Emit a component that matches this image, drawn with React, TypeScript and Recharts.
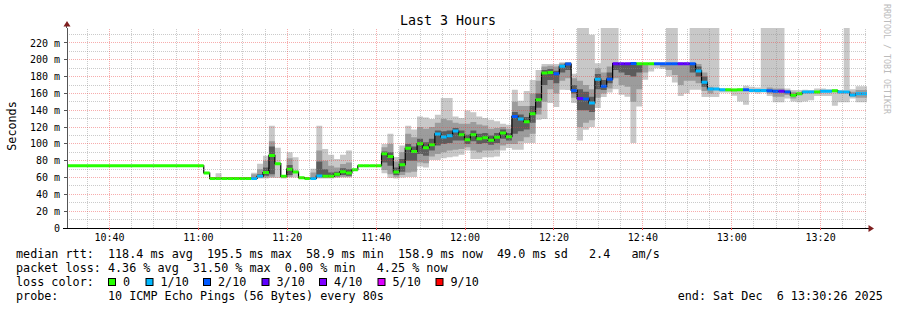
import React from 'react';
import { ComposedChart, Area, Line, XAxis, YAxis, ReferenceLine } from 'recharts';

// time axis (minutes since midnight)
const T_START = 630 + 26 / 60; // 10:30:26
const T_END = T_START + 180; // 13:30:26
const FIRST_SAMPLE = 661.2; // 11:01:12
const STEP = 80 / 60; // 80 s
const LEAD_MEDIAN = 74;

const median = [
  65.4, 59.0, 59.0, 59.0, 58.9, 58.9, 58.9, 58.9, 59.0, 61.4,
  66.0, 86.3, 76.5, 61.4, 70.0, 66.6, 59.8, 59.0, 59.0, 61.8,
  61.4, 61.4, 63.8, 67.0, 65.4, 69.3, 74.0, 74.0, 74.0, 74.0,
  88.3, 85.0, 66.6, 75.3, 94.7, 91.0, 100.2, 95.5, 99.0, 111.8,
  108.2, 109.7, 115.3, 111.0, 105.0, 111.0, 106.2, 107.4, 104.2, 107.8,
  113.0, 108.6, 132.7, 129.6, 126.4, 135.9, 152.6, 184.3, 185.0, 183.5,
  192.2, 195.0, 163.6, 154.0, 153.3, 148.6, 177.0, 168.4, 177.0, 195.4,
  195.4, 195.4, 195.5, 195.4, 195.4, 195.4, 195.4, 195.4, 195.4, 195.4,
  195.4, 195.4, 195.4, 186.8, 173.2, 165.3, 165.3, 164.4, 164.4, 164.0,
  164.4, 164.4, 163.6, 163.6, 163.6, 163.3, 162.5, 162.5, 161.7, 157.7,
  159.7, 161.7, 161.7, 161.7, 162.5, 162.5, 163.3, 161.7, 161.7, 158.1,
  159.7, 159.7,
];

const loss = [
  0, 0, 0, 0, 0, 0, 0, 0, 1, 1,
  0, 0, 0, 0, 0, 0, 0, 0, 1, 1,
  0, 0, 0, 0, 0, 0, 0, 0, 0, 0,
  0, 0, 0, 0, 0, 0, 0, 0, 0, 1,
  1, 1, 1, 0, 0, 0, 0, 0, 0, 0,
  0, 0, 2, 1, 0, 0, 0, 0, 0, 2,
  1, 2, 2, 3, 2, 1, 1, 2, 2, 3,
  3, 3, 2, 0, 0, 0, 2, 2, 2, 2,
  3, 3, 2, 1, 1, 1, 1, 1, 0, 0,
  0, 2, 1, 1, 1, 2, 2, 3, 2, 0,
  0, 1, 1, 0, 1, 1, 0, 1, 1, 1,
  1, 1,
];

const outerLo = [
  null, null, 58.5, 58.5, null, null, null, null, 58.5, 59,
  59, 59.5, 59.5, 59, 60, 60, 59, null, 58.5, 59,
  59, 59, 59.5, 60, 60, 62, null, null, null, null,
  65, 59.5, 59, 60, 60.6, 60.6, 73, 72, 81, 81,
  83, 84, 85, 87, 92, 82, 82, 84, 84, 85,
  92, 95, 93, 93, 101, 101, 128.8, 129.6, 148.6, 143.9,
  164.4, 164, 148.6, 104, 116.9, 120, 142.7, 155.7, 161, 165,
  158.5, 156, 101, 144.6, 176.3, 186, 190, 189, 180, 173,
  157, 160, 164.4, 164.4, 155.8, 155.8, 155.8, 161, 161, 157.3,
  150.5, 146.6, 161, 160, 161, 157, 149.4, 149.4, 154, 150.5,
  149.4, 150.5, 152, 157, 157, 157, 145.4, 149.4, 149.4, 154,
  149.4, 149.4,
];

const outerHi = [
  null, null, 65, 63, null, null, null, null, 65.7, 76.5,
  86, 121.6, 95.5, 63, 90, 84, 62, null, 70.5, 121.6,
  94, 87, 82, 87, 92, 79, null, null, null, null,
  100, 112, 84.4, 98, 121.6, 117, 132.7, 131.5, 129.6, 134.7,
  154.6, 154.6, 132.7, 130.8, 139.8, 137.5, 132.7, 130.8, 128.8, 126.8,
  124, 122.8, 164.4, 151.4, 163, 176, 188, 195, 195, 195,
  197, 197, 183.5, 238, 238, 229.8, 196, 238, 238, 238,
  196.5, 196.5, 197, 196.5, 196.5, 196.5, 196.5, 196.5, 238, 238,
  197, 197, 238, 238, 238, 238, 238, 166, 166, 166,
  166, 169, 168, 167, 238, 238, 238, 238, 166, 164,
  164, 164.5, 164, 166, 166, 165, 165, 164, 238, 165,
  168.4, 168.4,
];

const midLo = [
  null, null, null, null, null, null, null, null, 59, 60,
  60, 61, 61, null, 61, 61, null, null, 59, 60,
  60, 60, 60.5, 61, 61, 64, null, null, null, null,
  69, 64, 61, 63, 66, 67, 78, 77, 85, 88,
  90, 92, 93, 94, 96, 92, 90, 92, 92, 93,
  98, 100, 100, 103, 108, 112, 135, 150, 165, 160,
  175, 178, 155, 120, 125, 128, 155, 160, 166, 178,
  170, 168, 150, 165, 185, 190, null, 191, 188, 182,
  170, 175, 175, 172, 163, 160, 160, null, null, null,
  null, 158, null, null, null, 160, 156, 156, 158, 154,
  155, null, null, null, null, null, null, null, null, 156,
  155, 155,
];

const midHi = [
  null, null, null, null, null, null, null, null, 64, 70,
  80, 103, 88, null, 83, 78, null, null, 66, 92,
  80, 74, 72, 76, 78, 75, null, null, null, null,
  96, 100, 79, 90, 112, 108, 120, 118, 120, 125,
  130, 128, 125, 124, 124, 126, 123, 122, 118, 119,
  120, 118, 150, 145, 145, 160, 175, 192, 193, 192,
  196, 197, 178, 175, 170, 165, 190, 185, 192, 197,
  196, 196, 197, 196, 196, 196, null, 196, 196, 196,
  196, 196, 196, 195, 185, 168, 168, null, null, null,
  null, 167, null, null, null, 167, 166, 166, 164, 162,
  163, null, null, null, null, null, null, null, null, 162,
  164, 164,
];

const innerLo = [
  null, null, null, null, null, null, null, null, null, 60.5,
  62, 64, 64, null, 63, 62, null, null, null, 61,
  60.5, 60.5, 61.5, 63, 62, 66, null, null, null, null,
  78, 74, 63, 67, 80, 80, 88, 86, 92, 98,
  100, 101, 104, 104, 100, 103, 100, 101, 99, 101,
  106, 104, 112, 115, 117, 125, 143, 170, 176, 172,
  185, 188, 160, 140, 140, 138, 165, 164, 172, 188,
  185, 182, 180, 185, 190, null, null, null, null, null,
  185, null, 185, 180, 168, 163, null, null, null, null,
  null, null, null, null, null, null, null, null, null, null,
  null, null, null, null, null, null, null, null, null, null,
  null, null,
];

const innerHi = [
  null, null, null, null, null, null, null, null, null, 64,
  72, 97, 80, null, 75, 70, null, null, null, 79,
  70, 66, 67, 71, 70, 72, null, null, null, null,
  91, 90, 72, 82, 100, 97, 106, 102, 106, 116,
  115, 116, 119, 116, 111, 116, 112, 113, 110, 113,
  117, 113, 138, 135, 132, 145, 160, 188, 189, 187,
  194, 196, 170, 165, 162, 156, 183, 176, 185, 196,
  196, 196, 197, 196, 196, null, null, null, null, null,
  196, null, 196, 192, 180, 167, null, null, null, null,
  null, null, null, null, null, null, null, null, null, null,
  null, null, null, null, null, null, null, null, null, null,
  null, null,
];

const lossColors = ['#26ff00', '#00b8ff', '#0059ff', '#5e00ff', '#7e00ff', '#dd00ff', '#ff0000'];
const lossLabels = ['0', '1/10', '2/10', '3/10', '4/10', '5/10', '9/10'];
const lossLegendX = [108, 145.5, 203, 261.5, 319, 377.5, 435.5];

const yTicks = [0, 20, 40, 60, 80, 100, 120, 140, 160, 180, 200, 220];
const yMinor = [10, 30, 50, 70, 90, 110, 130, 150, 170, 190, 210, 230];
const xTicks = [640, 660, 680, 700, 720, 740, 760, 780, 800];
const xMinor = [635, 645, 650, 655, 665, 670, 675, 685, 690, 695, 705, 710, 715, 725, 730, 735, 745, 750, 755, 765, 770, 775, 785, 790, 795, 805, 810];

const legendLines = [
  'median rtt:  118.4 ms avg  195.5 ms max  58.9 ms min  158.9 ms now  49.0 ms sd   2.4   am/s',
  'packet loss: 4.36 % avg  31.50 % max  0.00 % min   4.25 % now',
  'loss color:',
  'probe:       10 ICMP Echo Pings (56 Bytes) every 80s',
];
const endText = 'end: Sat Dec  6 13:30:26 2025';

const pair = (lo: number | null, hi: number | null) => (lo == null || hi == null ? null : [lo, hi]);

type Row = { [k: string]: any };
const rows: Row[] = [];
rows.push({ t: T_START, m: LEAD_MEDIAN, loss: 0, outer: null, mid: null, inner: null });
median.forEach((m, k) => {
  rows.push({
    t: FIRST_SAMPLE + k * STEP,
    m,
    loss: loss[k],
    outer: pair(outerLo[k], outerHi[k]),
    mid: pair(midLo[k], midHi[k]),
    inner: pair(innerLo[k], innerHi[k]),
  });
});
rows.push({ ...rows[rows.length - 1], t: T_END });

const levels = Array.from(new Set([0, ...loss])).sort();
const segKeys: { key: string; color: string }[] = [];
levels.forEach((L) => {
  [0, 1, 2].forEach((p) => segKeys.push({ key: `s${L}_${p}`, color: lossColors[L] }));
});
rows.forEach((r, j) => {
  segKeys.forEach((s) => (r[s.key] = null));
  if (j < rows.length - 1) r[`s${r.loss}_${j % 3}`] = r.m;
  if (j > 0) {
    const prev = rows[j - 1];
    r[`s${prev.loss}_${(j - 1) % 3}`] = prev.m;
  }
});

const fmtTime = (v: number) => {
  const h = Math.floor(v / 60);
  const mm = Math.round(v - h * 60);
  return `${h}:${String(mm).padStart(2, '0')}`;
};

const MONO = "'DejaVu Sans Mono', monospace";
const GRID = 'rgba(140,140,140,0.45)';
const MGRID = 'rgba(235,60,60,0.42)';

export default function App() {
  return (
    <div style={{ position: 'absolute', left: 0, top: 0, width: 897, height: 310, background: '#fff' }}>
      <ComposedChart
        width={897}
        height={310}
        data={rows}
        margin={{ top: 28, right: 30, bottom: 62, left: 0 }}
      >
        <XAxis
          dataKey="t"
          type="number"
          domain={[T_START, T_END]}
          allowDataOverflow
          ticks={xTicks}
          tickFormatter={fmtTime}
          height={20}
          tickSize={2}
          tickMargin={4}
          axisLine={{ stroke: '#000', shapeRendering: 'crispEdges' }}
          tickLine={{ stroke: '#e05050', shapeRendering: 'crispEdges' }}
          tick={{ fontFamily: MONO, fontSize: 10, fill: '#000' }}
        />
        <YAxis
          type="number"
          domain={[0, 237.8]}
          allowDataOverflow
          ticks={yTicks}
          tickFormatter={(v: number) => (v === 0 ? '0' : `${v} m`)}
          width={67}
          tickSize={3}
          tickMargin={4}
          axisLine={{ stroke: '#555', shapeRendering: 'crispEdges' }}
          tickLine={{ stroke: '#555', shapeRendering: 'crispEdges' }}
          tick={{ fontFamily: MONO, fontSize: 10, fill: '#000' }}
        />
        <Area dataKey="outer" type="stepAfter" stroke="none" fill="#c8c8c8" fillOpacity={1} isAnimationActive={false} dot={false} activeDot={false} />
        <Area dataKey="mid" type="stepAfter" stroke="none" fill="#9c9c9c" fillOpacity={1} isAnimationActive={false} dot={false} activeDot={false} />
        <Area dataKey="inner" type="stepAfter" stroke="none" fill="#5c5c5c" fillOpacity={1} isAnimationActive={false} dot={false} activeDot={false} />
        <Line dataKey="m" type="stepAfter" stroke="#000" strokeWidth={1.2} dot={false} activeDot={false} isAnimationActive={false} />
        {segKeys.map((s) => (
          <Line
            key={s.key}
            dataKey={s.key}
            type="stepAfter"
            stroke={s.color}
            strokeWidth={3}
            strokeLinecap="butt"
            dot={false}
            activeDot={false}
            connectNulls={false}
            isAnimationActive={false}
          />
        ))}
        {yMinor.map((v) => (
          <ReferenceLine key={`ym${v}`} y={v} stroke={GRID} strokeDasharray="1 1" shapeRendering="crispEdges" ifOverflow="hidden" />
        ))}
        {xMinor.map((v) => (
          <ReferenceLine key={`xm${v}`} x={v} stroke={GRID} strokeDasharray="1 1" shapeRendering="crispEdges" ifOverflow="hidden" />
        ))}
        {yTicks.filter((v) => v > 0).map((v) => (
          <ReferenceLine key={`yM${v}`} y={v} stroke={MGRID} strokeDasharray="1 1" shapeRendering="crispEdges" />
        ))}
        {xTicks.map((v) => (
          <ReferenceLine key={`xM${v}`} x={v} stroke={MGRID} strokeDasharray="1 1" shapeRendering="crispEdges" />
        ))}
      </ComposedChart>
      <svg width={897} height={310} style={{ position: 'absolute', left: 0, top: 0, pointerEvents: 'none' }}>
        <text x={448} y={24.5} textAnchor="middle" fontFamily={MONO} fontSize={13.3} fill="#000">
          Last 3 Hours
        </text>
        <text
          x={15.5}
          y={126}
          textAnchor="middle"
          fontFamily={MONO}
          fontSize={11.75}
          fill="#000"
          transform="rotate(-90 15.5 126)"
        >
          Seconds
        </text>
        <text x={884} y={4} fontFamily={MONO} fontSize={8.3} fill="#bbbbbb" transform="rotate(90 884 4)">
          RRDTOOL / TOBI OETIKER
        </text>
        <line x1={66.5} y1={25} x2={66.5} y2={28} stroke="#555" />
        <polygon points="67,21 63.5,26.5 70.5,26.5" fill="#7f1f1f" />
        <line x1={63} y1={228.5} x2={67} y2={228.5} stroke="#000" />
        <line x1={867} y1={228.5} x2={869} y2={228.5} stroke="#000" />
        <polygon points="874,228.5 868.5,225 868.5,232" fill="#7f1f1f" />
        {legendLines.map((s, i) => (
          <text key={i} x={16} y={258 + i * 14} fontFamily={MONO} fontSize={11.75} fill="#000" style={{ whiteSpace: 'pre' }} xmlSpace="preserve">
            {s}
          </text>
        ))}
        {lossLabels.map((lbl, i) => (
          <g key={lbl}>
            <rect x={lossLegendX[i] + 0.5} y={278.5} width={7} height={7} fill={lossColors[i]} stroke="#000" strokeWidth={1} />
            <text x={lossLegendX[i] + 15} y={286} fontFamily={MONO} fontSize={11.75} fill="#000">
              {lbl}
            </text>
          </g>
        ))}
        <text x={677.7} y={300} fontFamily={MONO} fontSize={11.75} fill="#000" style={{ whiteSpace: 'pre' }} xmlSpace="preserve">
          {endText}
        </text>
      </svg>
    </div>
  );
}
